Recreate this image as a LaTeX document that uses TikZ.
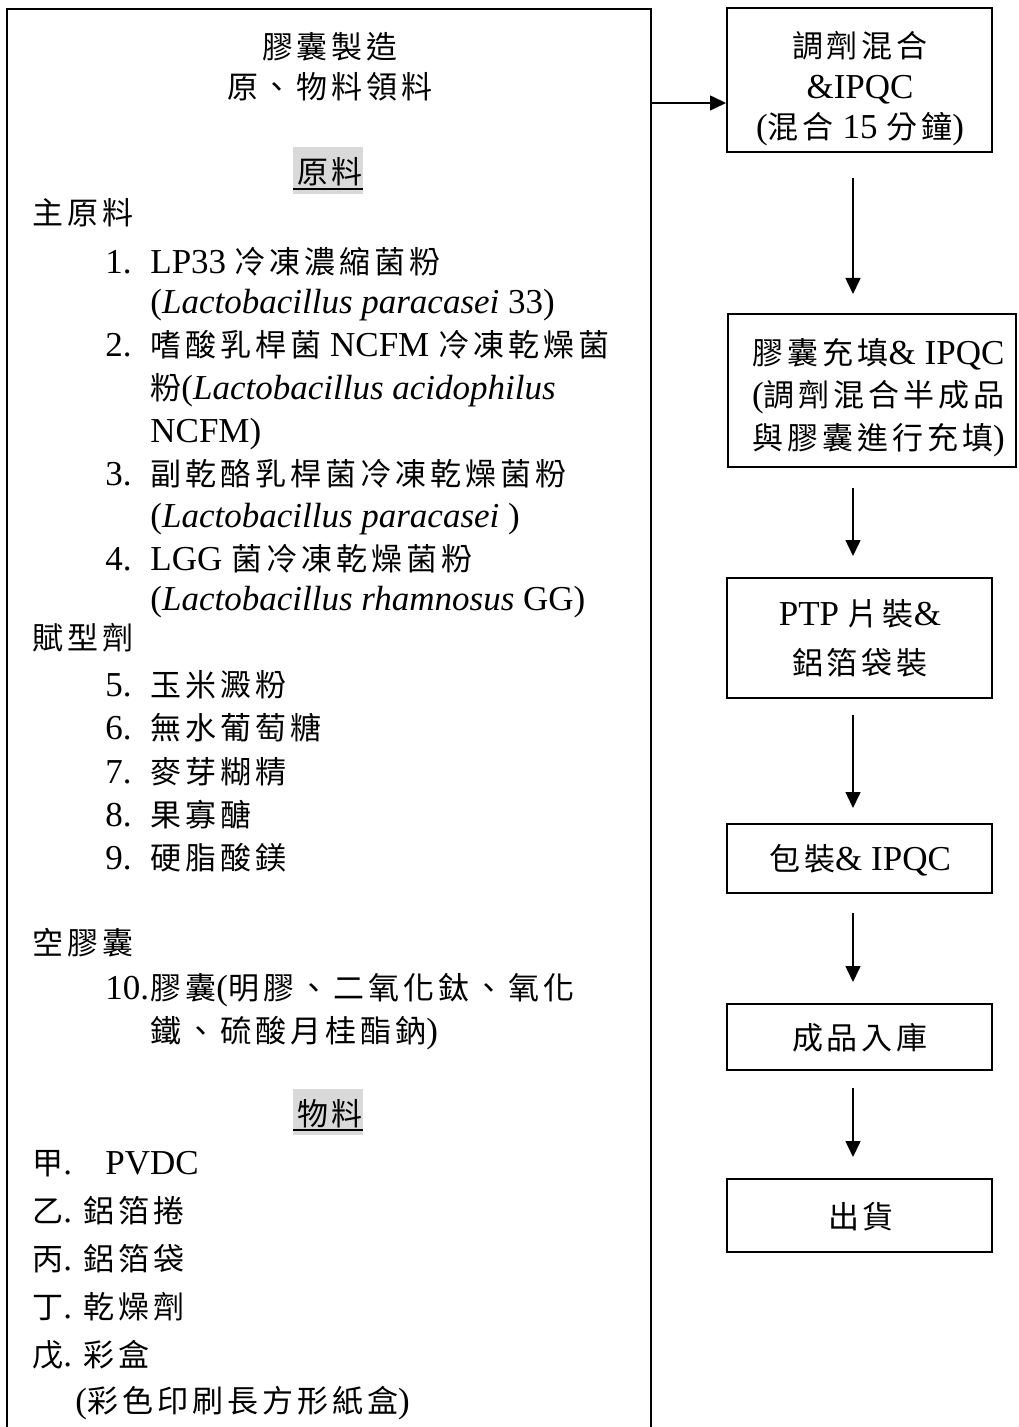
\documentclass[tikz,border=0pt]{standalone}
\usepackage{fontspec}
\setmainfont{Liberation Serif}
\newfontfamily\cjkfont[LetterSpace=12.9]{Noto Sans CJK TC}
\usetikzlibrary{arrows.meta}
\definecolor{hlgray}{RGB}{217,217,217}
\newcommand\zh[1]{{\cjkfont\fontsize{15.5pt}{20pt}\selectfont #1}}

\begin{document}
\begin{tikzpicture}[x=0.5pt,y=-0.5pt,
  every node/.style={font=\fontsize{17.5pt}{21pt}\selectfont},
  txt/.style={inner sep=0pt, anchor=base west},
  mid/.style={inner sep=0pt, anchor=base},
  stepbox/.style={draw, line width=1pt, inner sep=0pt, minimum width=132.5pt},
  arr/.style={line width=0.75pt, -{Triangle[length=8pt,width=7.5pt]}},
  frame/.style={line width=1pt},
  uline/.style={line width=1pt}]
\clip (0,0) rectangle (1018,1427);
\fill[white] (0,0) rectangle (1018,1427);

% left frame
\draw[frame] (7,1440) -- (7,9) -- (651,9) -- (651,1440);
\coordinate (srcE) at (651,103);
\coordinate (ax) at (853,0);

% titles
\node[mid] (tA) at (330,59) {\zh{膠囊製造}};
\node[mid] (tB) at (330,99) {\zh{原、物料領料}};

% heading 原料
\fill[hlgray] (293,147) rectangle (363,194);
\draw[uline] (293,189) -- (363,189);
\node[mid] (h1) at (330,184) {\zh{原料}};

\node[txt] (g1) at (32,225) {\zh{主原料}};
\node[txt] (n1) at (105,274) {1.};
\node[txt] (i1a) at (150,274) {LP33 \zh{冷凍濃縮菌粉}};
\node[txt] (i1b) at (150,314) {(\textit{Lactobacillus paracasei} 33)};
\node[txt] (n2) at (105,357) {2.};
\node[txt] (i2a) at (150,357) {\zh{嗜酸乳桿菌} NCFM \zh{冷凍乾燥菌}};
\node[txt] (i2b) at (150,400) {\zh{粉}(\textit{Lactobacillus acidophilus}};
\node[txt] (i2c) at (150,442) {NCFM)};
\node[txt] (n3) at (105,485) {3.};
\node[txt] (i3a) at (150,485) {\zh{副乾酪乳桿菌冷凍乾燥菌粉}};
\node[txt] (i3b) at (150,527) {(\textit{Lactobacillus paracasei} )};
\node[txt] (n4) at (105,570) {4.};
\node[txt] (i4a) at (150,570) {LGG \zh{菌冷凍乾燥菌粉}};
\node[txt] (i4b) at (150,610) {(\textit{Lactobacillus rhamnosus} GG)};

\node[txt] (g2) at (32,649) {\zh{賦型劑}};
\node[txt] (n5) at (105,696) {5.};
\node[txt] (i5) at (150,696) {\zh{玉米澱粉}};
\node[txt] (n6) at (105,739) {6.};
\node[txt] (i6) at (150,739) {\zh{無水葡萄糖}};
\node[txt] (n7) at (105,783) {7.};
\node[txt] (i7) at (150,783) {\zh{麥芽糊精}};
\node[txt] (n8) at (105,826) {8.};
\node[txt] (i8) at (150,826) {\zh{果寡醣}};
\node[txt] (n9) at (105,869) {9.};
\node[txt] (i9) at (150,869) {\zh{硬脂酸鎂}};

\node[txt] (g3) at (32,954) {\zh{空膠囊}};
\node[txt] (n10) at (105,999) {10.};
\node[txt] (i10a) at (150,999) {\zh{膠囊}(\zh{明膠、二氧化鈦、氧化}};
\node[txt] (i10b) at (150,1042) {\zh{鐵、硫酸月桂酯鈉})};

% heading 物料
\fill[hlgray] (293,1089) rectangle (363,1135);
\draw[uline] (293,1130) -- (363,1130);
\node[mid] (h2) at (330,1125) {\zh{物料}};

\node[txt] (m1) at (32,1174) {\zh{甲}.};
\node[txt] (m1b) at (105,1174) {PVDC};
\node[txt] (m2) at (32,1222) {\zh{乙}. \zh{鋁箔捲}};
\node[txt] (m3) at (32,1270) {\zh{丙}. \zh{鋁箔袋}};
\node[txt] (m4) at (32,1318) {\zh{丁}. \zh{乾燥劑}};
\node[txt] (m5) at (32,1366) {\zh{戊}. \zh{彩盒}};
\node[txt] (m5b) at (75,1412) {(\zh{彩色印刷長方形紙盒})};

% right flow boxes
\node[stepbox, minimum height=72pt] (b1) at (859.5,80) {};
\node[stepbox, minimum width=144pt, minimum height=76.5pt] (b2) at (872,390.5) {};
\node[stepbox, minimum height=60pt] (b3) at (859.5,638) {};
\node[stepbox, minimum height=34.5pt] (b4) at (859.5,858.5) {};
\node[stepbox, minimum height=33pt] (b5) at (859.5,1037) {};
\node[stepbox, minimum height=36.5pt] (b6) at (859.5,1215.5) {};

\node[mid] (b1t1) at (860,58) {\zh{調劑混合}};
\node[mid] (b1t2) at (860,99) {\&IPQC};
\node[mid] (b1t3) at (860,139) {(\zh{混合} 15 \zh{分鐘})};
\node[mid] (b2t1) at (878.5,365) {\zh{膠囊充填}\&{} IPQC};
\node[mid] (b2t2) at (878.5,407) {(\zh{調劑混合半成品}};
\node[mid] (b2t3) at (878.5,449) {\zh{與膠囊進行充填})};
\node[mid] (b3t1) at (860,625) {PTP \zh{片裝}\&};
\node[mid] (b3t2) at (860,674) {\zh{鋁箔袋裝}};
\node[mid] (b4t) at (860,870) {\zh{包裝}\&{} IPQC};
\node[mid] (b5t) at (860,1049) {\zh{成品入庫}};
\node[mid] (b6t) at (861,1228) {\zh{出貨}};

% connectors
\draw[arr] (srcE) -- (srcE -| b1.west);
\draw[arr, shorten <=12.5pt, shorten >=9.5pt] (b1.south -| ax) -- (b2.north -| ax);
\draw[arr, shorten <=10pt, shorten >=10.5pt] (b2.south -| ax) -- (b3.north -| ax);
\draw[arr, shorten <=8pt, shorten >=7.5pt] (b3.south -| ax) -- (b4.north -| ax);
\draw[arr, shorten <=9.5pt, shorten >=10.5pt] (b4.south -| ax) -- (b5.north -| ax);
\draw[arr, shorten <=8.5pt, shorten >=10.5pt] (b5.south -| ax) -- (b6.north -| ax);
\end{tikzpicture}
\end{document}
